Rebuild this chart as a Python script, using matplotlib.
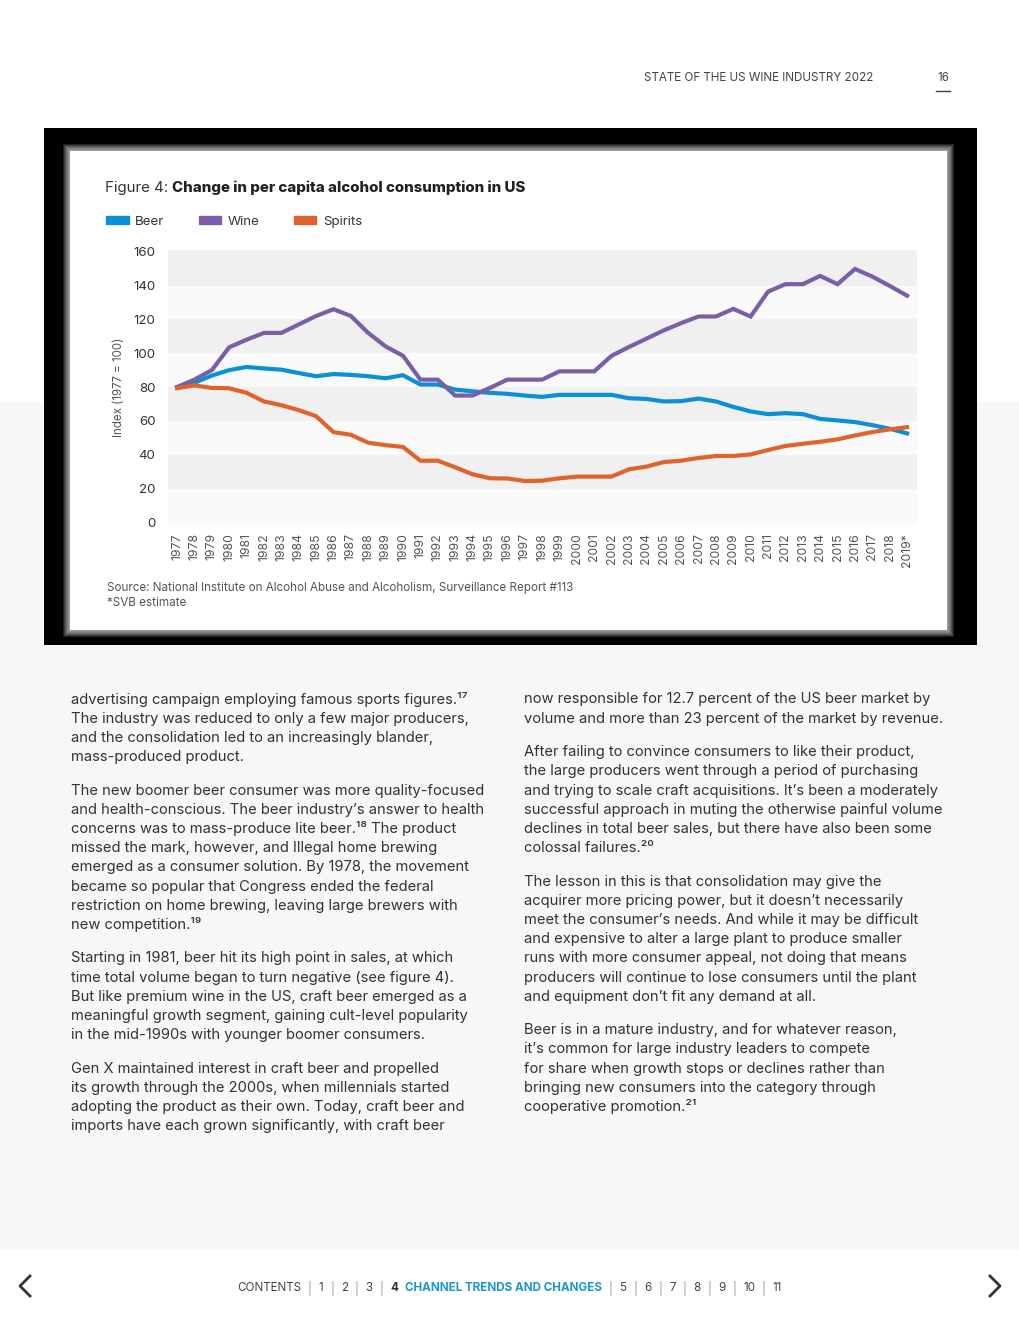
import matplotlib.pyplot as plt
import matplotlib.patches as mpatches
from matplotlib.lines import Line2D

plt.rcParams['font.family'] = ['Inter', 'DejaVu Sans']

# data (index)
years = [str(y) for y in range(1977, 2019)] + ['2019*']
beer = [80, 82.5, 86.8, 90, 91.9, 91, 90.3, 88.3, 86.4, 87.7, 87.2, 86.4, 85.2, 87, 81.5, 81.5,
        78.5, 77.5, 76.6, 76, 75, 74.2, 75.4, 75.4, 75.4, 75.4, 73.4, 73, 71.5, 71.7, 73.2, 71.5,
        68.3, 65.6, 64, 64.6, 64, 61.2, 60.3, 59.3, 57.5, 55.4, 52.6]
wine = [80, 84.4, 90, 103.5, 108, 112, 112, 117, 122, 126, 122, 112, 104, 98.5, 84.4, 84.4,
        75, 75, 79.5, 84.4, 84.4, 84.4, 89.3, 89.3, 89.3, 98.5, 103.7, 108.6, 113.5, 117.8, 121.7,
        121.7, 126.2, 121.7, 136.4, 140.8, 140.8, 145.7, 140.8, 149.8, 145.3, 139.8, 134]
spirits = [79.3, 81, 79.5, 79.3, 76.6, 71.5, 69.3, 66.4, 62.8, 53.4, 51.8, 47.1, 45.7, 44.6, 36.5,
           36.5, 32.6, 28.5, 26.1, 26, 24.5, 24.7, 26.1, 27.1, 27.1, 27.1, 31.4, 33, 35.7, 36.5,
           38.1, 39.3, 39.3, 40.2, 42.8, 45.2, 46.5, 47.7, 49.1, 51.4, 53.4, 55, 56.3]
series = ['Beer', 'Wine', 'Spirits']
colors = ['#0b8fd6', '#7a5ea8', '#e2622b']
yticks = [0, 20, 40, 60, 80, 100, 120, 140, 160]

left_col = [
    ["advertising campaign employing famous sports figures.\u00b9\u2077",
     "The industry was reduced to only a few major producers,",
     "and the consolidation led to an increasingly blander,",
     "mass-produced product."],
    ["The new boomer beer consumer was more quality-focused",
     "and health-conscious. The beer industry\u2019s answer to health",
     "concerns was to mass-produce lite beer.\u00b9\u2078 The product",
     "missed the mark, however, and Illegal home brewing",
     "emerged as a consumer solution. By 1978, the movement",
     "became so popular that Congress ended the federal",
     "restriction on home brewing, leaving large brewers with",
     "new competition.\u00b9\u2079"],
    ["Starting in 1981, beer hit its high point in sales, at which",
     "time total volume began to turn negative (see figure 4).",
     "But like premium wine in the US, craft beer emerged as a",
     "meaningful growth segment, gaining cult-level popularity",
     "in the mid-1990s with younger boomer consumers."],
    ["Gen X maintained interest in craft beer and propelled",
     "its growth through the 2000s, when millennials started",
     "adopting the product as their own. Today, craft beer and",
     "imports have each grown significantly, with craft beer"],
]
right_col = [
    ["now responsible for 12.7 percent of the US beer market by",
     "volume and more than 23 percent of the market by revenue."],
    ["After failing to convince consumers to like their product,",
     "the large producers went through a period of purchasing",
     "and trying to scale craft acquisitions. It\u2019s been a moderately",
     "successful approach in muting the otherwise painful volume",
     "declines in total beer sales, but there have also been some",
     "colossal failures.\u00b2\u2070"],
    ["The lesson in this is that consolidation may give the",
     "acquirer more pricing power, but it doesn\u2019t necessarily",
     "meet the consumer\u2019s needs. And while it may be difficult",
     "and expensive to alter a large plant to produce smaller",
     "runs with more consumer appeal, not doing that means",
     "producers will continue to lose consumers until the plant",
     "and equipment don\u2019t fit any demand at all."],
    ["Beer is in a mature industry, and for whatever reason,",
     "it\u2019s common for large industry leaders to compete",
     "for share when growth stops or declines rather than",
     "bringing new consumers into the category through",
     "cooperative promotion.\u00b2\u00b9"],
]
nav_items = ['1', '2', '3', '4', '5', '6', '7', '8', '9', '10', '11']

W, H = 1020, 1320
fig = plt.figure(figsize=(W / 100, H / 100), dpi=100)
bg = fig.add_axes([0, 0, 1, 1], zorder=0)
bg.set_xlim(0, W)
bg.set_ylim(H, 0)
bg.axis('off')
r = fig.canvas.get_renderer()

# page backgrounds
bg.add_patch(mpatches.Rectangle((0, 402), W, 848, color='#f7f7f7', lw=0))
bg.add_patch(mpatches.Rectangle((44, 128), 933, 517, color='black', lw=0))
for i in range(7, 0, -1):
    bg.add_patch(mpatches.Rectangle((70 - i, 151 - i), 877 + 2 * i, 479 + 2 * i,
                                    color='white', alpha=0.13, lw=0))
bg.add_patch(mpatches.Rectangle((70, 151), 877, 479, color='white', lw=0))

# header
bg.text(873, 78, 'STATE OF THE US WINE INDUSTRY 2022', ha='right', va='center',
        fontsize=8.4, color='#444444')
bg.text(943, 78, '16', ha='center', va='center', fontsize=8.4, color='#444444')
bg.plot([936, 950], [91, 91], color='#444444', lw=1)

# chart title
t = bg.text(105, 188, 'Figure 4:', va='center', fontsize=10.8, color='#333333')
x = 105 + t.get_window_extent(renderer=r).width + 4
bg.text(x, 188, 'Change in per capita alcohol consumption in US', va='center',
        fontsize=10.8, fontweight='heavy', color='#222222')

# chart
ax = fig.add_axes([168 / W, 1 - 525 / H, (917 - 168) / W, (525 - 250) / H], zorder=1)
ax.set_facecolor('#fafafa')
for lo in yticks[1::2]:
    ax.axhspan(lo, lo + 20 if lo < 140 else 161, color='#f0f0f0', lw=0, zorder=0)
xs = range(len(years))
for name, vals, c in zip(series, [beer, wine, spirits], colors):
    ax.plot(xs, vals, color=c, lw=3, label=name, zorder=3, solid_joinstyle='miter')
ax.set_xlim(-0.52, len(years) - 1 + 0.57)
ax.set_ylim(-1.5, 161)
ax.set_yticks(yticks)
ax.set_xticks(list(xs))
ax.set_xticklabels(years, rotation=90, fontsize=8.8, color='#555555')
ax.tick_params(axis='y', length=0, pad=9, labelsize=9.6, labelcolor='#333333')
ax.tick_params(axis='x', length=0, pad=6)
for s in ax.spines.values():
    s.set_visible(False)
ax.set_ylabel('Index (1977 = 100)', fontsize=8.3, color='#555555', labelpad=6)

handles = [mpatches.Patch(color=c, label=n) for n, c in zip(series, colors)]
fig.legend(handles=handles, loc='center left', bbox_to_anchor=(94 / W, 1 - 222 / H),
           ncol=3, frameon=False, fontsize=9.6, handlelength=1.7, handleheight=0.5,
           handletextpad=0.5, columnspacing=2.55, labelcolor='#333333')

bg.text(107, 588, 'Source: National Institute on Alcohol Abuse and Alcoholism, Surveillance Report #113',
        va='center', fontsize=8.4, color='#555555')
bg.text(107, 603, '*SVB estimate', va='center', fontsize=8.4, color='#555555')

# body text
def column(x, paras):
    y = 699.5
    for p in paras:
        for line in p:
            bg.text(x, y, line, va='center', fontsize=10.6, color='#333333')
            y += 19.2
        y += 14.2

column(71, left_col)
column(524, right_col)

# footer nav
parts = [('CONTENTS', '#444444', 'normal')]
for n in nav_items:
    parts.append(('|', '#999999', 'normal'))
    if n == '4':
        parts.append(('4', '#333333', 'bold'))
        parts.append(('CHANNEL TRENDS AND CHANGES', '#1a96d4', 'bold'))
    else:
        parts.append((n, '#444444', 'normal'))
x = 237
for s, c, w in parts:
    t = bg.text(x, 1288, s, va='center', fontsize=8.4, color=c, fontweight=w)
    x += t.get_window_extent(renderer=r).width + 6.85

for cx, d in [(25, 1), (995, -1)]:
    bg.add_line(Line2D([cx + 5 * d, cx - 5 * d, cx + 5 * d], [1276, 1286, 1296],
                       color='#333333', lw=2))

fig.savefig('out.png', dpi=100)
